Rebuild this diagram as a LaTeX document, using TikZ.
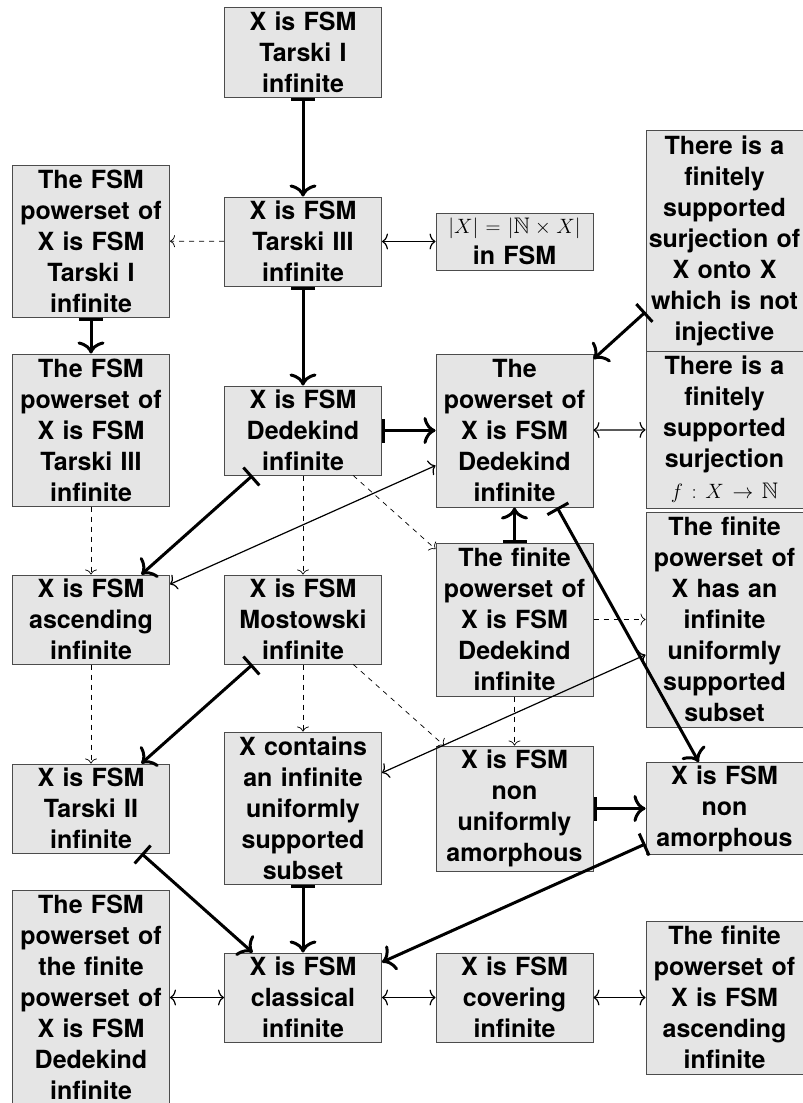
\documentclass[tikz,border=0pt]{standalone}
\usepackage{amssymb}
\usepackage[no-math]{fontspec}
\setmainfont{TeX Gyre Heros}
\usetikzlibrary{arrows.meta,calc}
\newcommand{\mathline}[1]{{\fontsize{22.5}{31}\selectfont$#1$}}
\begin{document}
\begin{tikzpicture}[x=1pt,y=-1pt,
  box/.style={draw=black!70, line width=1pt, fill=black!10, minimum width=157pt,
    text width=157pt, inner xsep=0pt, inner ysep=0pt, align=center,
    font=\fontsize{25}{31}\selectfont\bfseries},
  imp/.style={line width=3pt, {Bar[width=24pt]}-{Computer Modern Rightarrow[width=27pt,length=12pt]}},
  eqv/.style={line width=1.2pt, {Computer Modern Rightarrow[width=16pt,length=6pt]}-{Computer Modern Rightarrow[width=16pt,length=6pt]}},
  nimp/.style={line width=0.7pt, dash pattern=on 5pt off 5pt, -{Computer Modern Rightarrow[width=12pt,length=5pt]}}
]
\useasboundingbox (0,0) rectangle (803,1103);
% row 1
\node[box, minimum height=90pt] (t1) at (303,52) {X is FSM\\Tarski I\\infinite};
% row 2
\node[box, minimum height=152pt] (pt1) at (91,241) {The FSM\\powerset of\\X is FSM\\Tarski I\\infinite};
\node[box, minimum height=89pt] (t3) at (303,241.5) {X is FSM\\Tarski III\\infinite};
\node[box, minimum height=57pt] (nx) at (514.5,241.5) {\mathline{|X|=|\mathbb{N}\times X|}\\in FSM};
\node[box, minimum height=221pt] (sonto) at (724.5,240.5) {There is a\\finitely\\supported\\surjection of\\X onto X\\which is not\\injective};
% row 3
\node[box, minimum height=152pt] (pt3) at (91,430) {The FSM\\powerset of\\X is FSM\\Tarski III\\infinite};
\node[box, minimum height=89pt] (ded) at (303,430.5) {X is FSM\\Dedekind\\infinite};
\node[box, minimum height=153pt] (pded) at (514.5,430.5) {The\\powerset of\\X is FSM\\Dedekind\\infinite};
\node[box, minimum height=157pt] (sf) at (724.5,429.5) {There is a\\finitely\\supported\\surjection\\\mathline{f:X\to\mathbb{N}}};
% row 4
\node[box, minimum height=89pt] (asc) at (91,619.5) {X is FSM\\ascending\\infinite};
\node[box, minimum height=89pt] (mos) at (303,619.5) {X is FSM\\Mostowski\\infinite};
\node[box, minimum height=153pt] (fpded) at (514.5,619.5) {The finite\\powerset of\\X is FSM\\Dedekind\\infinite};
\node[box, minimum height=215pt] (fpinf) at (724.5,619.5) {The finite\\powerset of\\X has an\\infinite\\uniformly\\supported\\subset};
% row 5
\node[box, minimum height=89pt] (t2) at (91,808.5) {X is FSM\\Tarski II\\infinite};
\node[box, minimum height=152pt] (cont) at (303,808) {X contains\\an infinite\\uniformly\\supported\\subset};
\node[box, minimum height=125pt] (nua) at (514.5,808.5) {X is FSM\\non\\uniformly\\amorphous};
\node[box, minimum height=92pt] (na) at (724.5,808.5) {X is FSM\\non\\amorphous};
% row 6
\node[box, minimum height=215pt] (pfp) at (91,997.5) {The FSM\\powerset of\\the finite\\powerset of\\X is FSM\\Dedekind\\infinite};
\node[box, minimum height=89pt] (cl) at (303,997.5) {X is FSM\\classical\\infinite};
\node[box, minimum height=89pt] (cov) at (514.5,997.5) {X is FSM\\covering\\infinite};
\node[box, minimum height=153pt] (fpasc) at (724.5,997.5) {The finite\\powerset of\\X is FSM\\ascending\\infinite};
% dashed implications
\draw[nimp] (t3) -- (pt1);
\draw[nimp] (pt3) -- (asc);
\draw[nimp] (asc) -- (t2);
\draw[nimp] (ded) -- (mos);
\draw[nimp] (mos) -- (cont);
\draw[nimp] (ded) -- (fpded);
\draw[nimp] (mos) -- (nua);
\draw[nimp] (fpded) -- (fpinf);
\draw[nimp] (fpded) -- (nua);
% equivalences
\draw[eqv] (t3) -- (nx);
\draw[eqv] (pded) -- (sf);
\draw[eqv] (asc) -- (pded);
\draw[eqv] (fpinf) -- (cont);
\draw[eqv] (pfp) -- (cl);
\draw[eqv] (cl) -- (cov);
\draw[eqv] (cov) -- (fpasc);
% thick implications
\draw[imp] (t1) -- (t3);
\draw[imp] (t3) -- (ded);
\draw[imp] (pt1) -- (pt3);
\draw[imp] (ded) -- (pded);
\draw[imp] (sonto) -- (pded);
\draw[imp] (ded) -- (asc);
\draw[imp] (fpded) -- (pded);
\draw[imp] (pded) -- (na);
\draw[imp] (mos) -- (t2);
\draw[imp] (t2) -- (cl);
\draw[imp] (cont) -- (cl);
\draw[imp] (nua) -- (na);
\draw[imp] (na) -- (cl);
\end{tikzpicture}
\end{document}
